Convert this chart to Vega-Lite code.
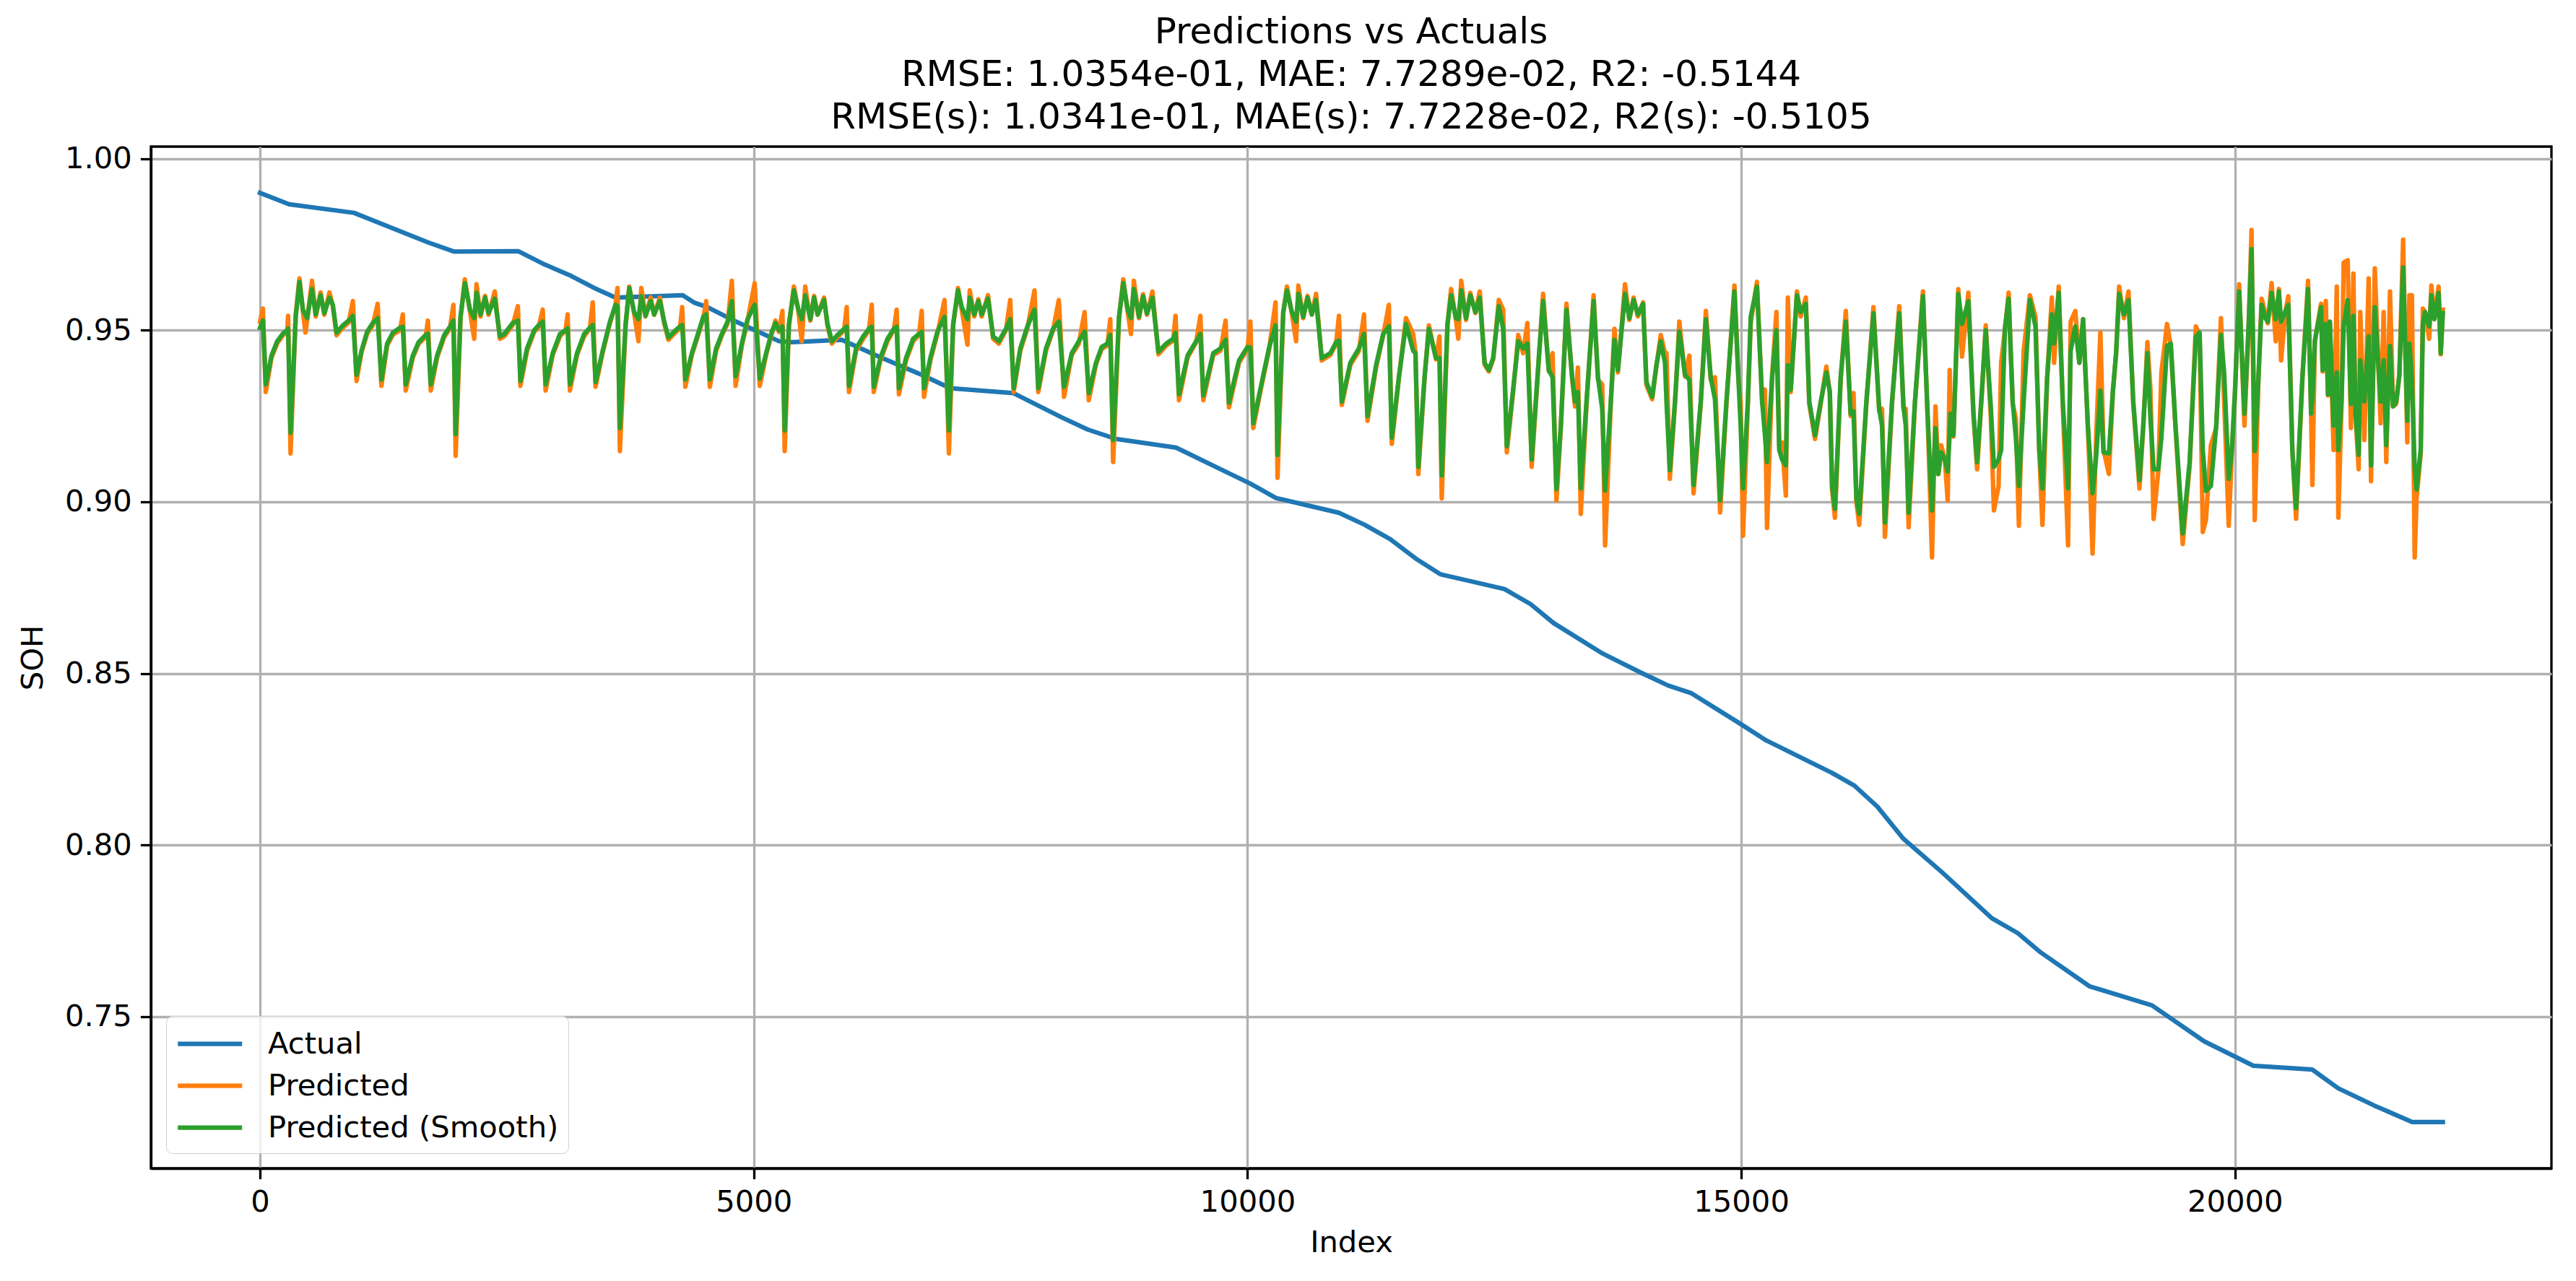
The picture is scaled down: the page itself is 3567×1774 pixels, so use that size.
{
  "$schema": "https://vega.github.io/schema/vega-lite/v6.json",
  "description": "Predictions vs Actuals, SOH over index",
  "width": 3324,
  "height": 1415,
  "autosize": {"type": "none"},
  "padding": {"left": 209, "top": 203, "right": 34, "bottom": 156},
  "background": "white",
  "title": {
    "text": [
      "Predictions vs Actuals",
      "RMSE: 1.0354e-01, MAE: 7.7289e-02, R2: -0.5144",
      "RMSE(s): 1.0341e-01, MAE(s): 7.7228e-02, R2(s): -0.5105"
    ],
    "font": "DejaVu Sans",
    "fontSize": 50,
    "fontWeight": "normal",
    "color": "black",
    "lineHeight": 59,
    "anchor": "middle",
    "frame": "group",
    "offset": 12
  },
  "datasets": {
    "actual": [
      {"i": 0, "v": 0.990}, {"i": 294, "v": 0.9867}, {"i": 951, "v": 0.9842}, {"i": 1700, "v": 0.9756},
      {"i": 1967, "v": 0.9729}, {"i": 2617, "v": 0.9730}, {"i": 2863, "v": 0.9694}, {"i": 3152, "v": 0.9658},
      {"i": 3384, "v": 0.9623}, {"i": 3600, "v": 0.9595}, {"i": 4280, "v": 0.9602}, {"i": 4400, "v": 0.9580},
      {"i": 4532, "v": 0.9567}, {"i": 4821, "v": 0.9525}, {"i": 5255, "v": 0.9468}, {"i": 5385, "v": 0.9465},
      {"i": 5891, "v": 0.9472}, {"i": 6267, "v": 0.9423}, {"i": 6701, "v": 0.9370}, {"i": 6990, "v": 0.9331},
      {"i": 7627, "v": 0.9317}, {"i": 8118, "v": 0.9246}, {"i": 8378, "v": 0.9211}, {"i": 8670, "v": 0.9183},
      {"i": 9277, "v": 0.9158}, {"i": 9798, "v": 0.9085}, {"i": 10029, "v": 0.9053}, {"i": 10289, "v": 0.9011},
      {"i": 10926, "v": 0.8968}, {"i": 11186, "v": 0.8933}, {"i": 11446, "v": 0.8891}, {"i": 11707, "v": 0.8834},
      {"i": 11952, "v": 0.8789}, {"i": 12602, "v": 0.8746}, {"i": 12867, "v": 0.8702}, {"i": 13099, "v": 0.8647},
      {"i": 13596, "v": 0.8558}, {"i": 13993, "v": 0.8501}, {"i": 14258, "v": 0.8465}, {"i": 14490, "v": 0.8443},
      {"i": 14987, "v": 0.8354}, {"i": 15252, "v": 0.8305}, {"i": 15914, "v": 0.8211}, {"i": 16146, "v": 0.8173},
      {"i": 16378, "v": 0.8112}, {"i": 16643, "v": 0.8018}, {"i": 17040, "v": 0.7919}, {"i": 17537, "v": 0.7787},
      {"i": 17802, "v": 0.7743}, {"i": 18033, "v": 0.7687}, {"i": 18530, "v": 0.7588}, {"i": 19159, "v": 0.7533},
      {"i": 19689, "v": 0.7428}, {"i": 20186, "v": 0.7357}, {"i": 20782, "v": 0.7346}, {"i": 21047, "v": 0.7291},
      {"i": 21411, "v": 0.7241}, {"i": 21795, "v": 0.7193}, {"i": 22105, "v": 0.7193}
    ],
    "pred": [
      {"i": 0, "p": 0.9525, "s": 0.9507}, {"i": 29, "p": 0.9563, "s": 0.9528}, {"i": 58, "p": 0.9320, "s": 0.9342},
      {"i": 116, "p": 0.9420, "s": 0.9426}, {"i": 174, "p": 0.9462, "s": 0.9468}, {"i": 231, "p": 0.9485, "s": 0.9490},
      {"i": 275, "p": 0.9495, "s": 0.9500}, {"i": 284, "p": 0.9542, "s": 0.9505}, {"i": 309, "p": 0.9141, "s": 0.9201},
      {"i": 361, "p": 0.9545, "s": 0.9539}, {"i": 399, "p": 0.9651, "s": 0.9641}, {"i": 434, "p": 0.9555, "s": 0.9560},
      {"i": 460, "p": 0.9493, "s": 0.9545}, {"i": 477, "p": 0.9530, "s": 0.9535}, {"i": 526, "p": 0.9644, "s": 0.9620},
      {"i": 564, "p": 0.9540, "s": 0.9546}, {"i": 613, "p": 0.9610, "s": 0.9602}, {"i": 651, "p": 0.9545, "s": 0.9550},
      {"i": 703, "p": 0.9610, "s": 0.9595}, {"i": 737, "p": 0.9570, "s": 0.9574}, {"i": 775, "p": 0.9485, "s": 0.9493},
      {"i": 839, "p": 0.9508, "s": 0.9514}, {"i": 897, "p": 0.9522, "s": 0.9528}, {"i": 940, "p": 0.9585, "s": 0.9542},
      {"i": 977, "p": 0.9352, "s": 0.9370}, {"i": 1027, "p": 0.9435, "s": 0.9440}, {"i": 1085, "p": 0.9490, "s": 0.9496},
      {"i": 1142, "p": 0.9515, "s": 0.9521}, {"i": 1191, "p": 0.9577, "s": 0.9535}, {"i": 1229, "p": 0.9338, "s": 0.9356},
      {"i": 1287, "p": 0.9455, "s": 0.9461}, {"i": 1345, "p": 0.9487, "s": 0.9493}, {"i": 1417, "p": 0.9500, "s": 0.9507},
      {"i": 1446, "p": 0.9546, "s": 0.9510}, {"i": 1475, "p": 0.9324, "s": 0.9342}, {"i": 1547, "p": 0.9420, "s": 0.9426},
      {"i": 1605, "p": 0.9460, "s": 0.9465}, {"i": 1677, "p": 0.9480, "s": 0.9486}, {"i": 1700, "p": 0.9528, "s": 0.9490},
      {"i": 1729, "p": 0.9324, "s": 0.9342}, {"i": 1793, "p": 0.9420, "s": 0.9426}, {"i": 1865, "p": 0.9480, "s": 0.9486},
      {"i": 1923, "p": 0.9505, "s": 0.9510}, {"i": 1958, "p": 0.9574, "s": 0.9528}, {"i": 1981, "p": 0.9134, "s": 0.9197},
      {"i": 2030, "p": 0.9535, "s": 0.9539}, {"i": 2074, "p": 0.9648, "s": 0.9637}, {"i": 2126, "p": 0.9555, "s": 0.9560},
      {"i": 2169, "p": 0.9475, "s": 0.9535}, {"i": 2192, "p": 0.9634, "s": 0.9609}, {"i": 2233, "p": 0.9540, "s": 0.9546},
      {"i": 2279, "p": 0.9600, "s": 0.9595}, {"i": 2314, "p": 0.9545, "s": 0.9550}, {"i": 2377, "p": 0.9613, "s": 0.9592},
      {"i": 2429, "p": 0.9475, "s": 0.9482}, {"i": 2473, "p": 0.9482, "s": 0.9489}, {"i": 2559, "p": 0.9515, "s": 0.9521},
      {"i": 2611, "p": 0.9570, "s": 0.9528}, {"i": 2637, "p": 0.9338, "s": 0.9352}, {"i": 2704, "p": 0.9440, "s": 0.9447},
      {"i": 2776, "p": 0.9495, "s": 0.9500}, {"i": 2820, "p": 0.9508, "s": 0.9514}, {"i": 2863, "p": 0.9560, "s": 0.9525},
      {"i": 2892, "p": 0.9324, "s": 0.9342}, {"i": 2964, "p": 0.9428, "s": 0.9433}, {"i": 3037, "p": 0.9482, "s": 0.9489},
      {"i": 3094, "p": 0.9500, "s": 0.9500}, {"i": 3115, "p": 0.9546, "s": 0.9505}, {"i": 3138, "p": 0.9324, "s": 0.9342},
      {"i": 3210, "p": 0.9428, "s": 0.9433}, {"i": 3282, "p": 0.9482, "s": 0.9489}, {"i": 3340, "p": 0.9505, "s": 0.9507},
      {"i": 3369, "p": 0.9581, "s": 0.9515}, {"i": 3398, "p": 0.9335, "s": 0.9349}, {"i": 3470, "p": 0.9435, "s": 0.9440},
      {"i": 3543, "p": 0.9520, "s": 0.9525}, {"i": 3600, "p": 0.9574, "s": 0.9574}, {"i": 3620, "p": 0.9623, "s": 0.9570},
      {"i": 3644, "p": 0.9148, "s": 0.9215}, {"i": 3702, "p": 0.9512, "s": 0.9518}, {"i": 3739, "p": 0.9627, "s": 0.9623},
      {"i": 3788, "p": 0.9550, "s": 0.9553}, {"i": 3832, "p": 0.9468, "s": 0.9532}, {"i": 3861, "p": 0.9623, "s": 0.9599},
      {"i": 3904, "p": 0.9540, "s": 0.9542}, {"i": 3956, "p": 0.9595, "s": 0.9585}, {"i": 3991, "p": 0.9545, "s": 0.9546},
      {"i": 4049, "p": 0.9595, "s": 0.9585}, {"i": 4093, "p": 0.9520, "s": 0.9525}, {"i": 4136, "p": 0.9472, "s": 0.9479},
      {"i": 4194, "p": 0.9490, "s": 0.9496}, {"i": 4252, "p": 0.9505, "s": 0.9511}, {"i": 4275, "p": 0.9567, "s": 0.9515},
      {"i": 4307, "p": 0.9335, "s": 0.9356}, {"i": 4373, "p": 0.9428, "s": 0.9433}, {"i": 4431, "p": 0.9480, "s": 0.9486},
      {"i": 4489, "p": 0.9535, "s": 0.9539}, {"i": 4518, "p": 0.9585, "s": 0.9546}, {"i": 4555, "p": 0.9335, "s": 0.9356},
      {"i": 4619, "p": 0.9440, "s": 0.9447}, {"i": 4677, "p": 0.9485, "s": 0.9489}, {"i": 4735, "p": 0.9520, "s": 0.9525},
      {"i": 4778, "p": 0.9644, "s": 0.9585}, {"i": 4816, "p": 0.9338, "s": 0.9366}, {"i": 4879, "p": 0.9455, "s": 0.9461},
      {"i": 4937, "p": 0.9528, "s": 0.9532}, {"i": 5009, "p": 0.9637, "s": 0.9574}, {"i": 5061, "p": 0.9338, "s": 0.9359},
      {"i": 5125, "p": 0.9428, "s": 0.9433}, {"i": 5183, "p": 0.9490, "s": 0.9496}, {"i": 5220, "p": 0.9528, "s": 0.9521},
      {"i": 5255, "p": 0.9495, "s": 0.9500}, {"i": 5290, "p": 0.9556, "s": 0.9511}, {"i": 5313, "p": 0.9148, "s": 0.9208},
      {"i": 5356, "p": 0.9512, "s": 0.9518}, {"i": 5406, "p": 0.9627, "s": 0.9616}, {"i": 5452, "p": 0.9555, "s": 0.9560},
      {"i": 5486, "p": 0.9468, "s": 0.9532}, {"i": 5521, "p": 0.9627, "s": 0.9602}, {"i": 5573, "p": 0.9528, "s": 0.9532},
      {"i": 5611, "p": 0.9600, "s": 0.9595}, {"i": 5646, "p": 0.9545, "s": 0.9546}, {"i": 5712, "p": 0.9595, "s": 0.9588},
      {"i": 5747, "p": 0.9512, "s": 0.9518}, {"i": 5790, "p": 0.9461, "s": 0.9468}, {"i": 5848, "p": 0.9480, "s": 0.9486},
      {"i": 5915, "p": 0.9500, "s": 0.9504}, {"i": 5941, "p": 0.9567, "s": 0.9510}, {"i": 5964, "p": 0.9320, "s": 0.9338},
      {"i": 6036, "p": 0.9440, "s": 0.9447}, {"i": 6108, "p": 0.9475, "s": 0.9482}, {"i": 6166, "p": 0.9500, "s": 0.9504},
      {"i": 6195, "p": 0.9574, "s": 0.9510}, {"i": 6215, "p": 0.9320, "s": 0.9335}, {"i": 6282, "p": 0.9412, "s": 0.9419},
      {"i": 6354, "p": 0.9468, "s": 0.9475}, {"i": 6418, "p": 0.9500, "s": 0.9504}, {"i": 6447, "p": 0.9560, "s": 0.9510},
      {"i": 6470, "p": 0.9313, "s": 0.9331}, {"i": 6542, "p": 0.9412, "s": 0.9419}, {"i": 6614, "p": 0.9468, "s": 0.9475},
      {"i": 6672, "p": 0.9485, "s": 0.9489}, {"i": 6701, "p": 0.9556, "s": 0.9495}, {"i": 6724, "p": 0.9306, "s": 0.9331},
      {"i": 6788, "p": 0.9412, "s": 0.9419}, {"i": 6860, "p": 0.9490, "s": 0.9496}, {"i": 6932, "p": 0.9588, "s": 0.9539},
      {"i": 6976, "p": 0.9141, "s": 0.9208}, {"i": 7019, "p": 0.9512, "s": 0.9518}, {"i": 7068, "p": 0.9623, "s": 0.9616},
      {"i": 7106, "p": 0.9560, "s": 0.9567}, {"i": 7164, "p": 0.9458, "s": 0.9532}, {"i": 7187, "p": 0.9616, "s": 0.9595},
      {"i": 7233, "p": 0.9540, "s": 0.9546}, {"i": 7274, "p": 0.9590, "s": 0.9585}, {"i": 7308, "p": 0.9540, "s": 0.9546},
      {"i": 7372, "p": 0.9602, "s": 0.9592}, {"i": 7424, "p": 0.9475, "s": 0.9482}, {"i": 7482, "p": 0.9461, "s": 0.9468},
      {"i": 7554, "p": 0.9500, "s": 0.9504}, {"i": 7597, "p": 0.9588, "s": 0.9532}, {"i": 7632, "p": 0.9320, "s": 0.9331},
      {"i": 7699, "p": 0.9440, "s": 0.9447}, {"i": 7771, "p": 0.9505, "s": 0.9511}, {"i": 7843, "p": 0.9616, "s": 0.9560},
      {"i": 7881, "p": 0.9320, "s": 0.9331}, {"i": 7959, "p": 0.9440, "s": 0.9447}, {"i": 8031, "p": 0.9500, "s": 0.9504},
      {"i": 8089, "p": 0.9588, "s": 0.9525}, {"i": 8142, "p": 0.9306, "s": 0.9335}, {"i": 8220, "p": 0.9428, "s": 0.9433},
      {"i": 8292, "p": 0.9461, "s": 0.9468}, {"i": 8350, "p": 0.9553, "s": 0.9496}, {"i": 8393, "p": 0.9296, "s": 0.9317},
      {"i": 8465, "p": 0.9400, "s": 0.9405}, {"i": 8523, "p": 0.9445, "s": 0.9451}, {"i": 8581, "p": 0.9455, "s": 0.9461},
      {"i": 8610, "p": 0.9532, "s": 0.9486}, {"i": 8639, "p": 0.9116, "s": 0.9180}, {"i": 8699, "p": 0.9535, "s": 0.9539},
      {"i": 8742, "p": 0.9648, "s": 0.9637}, {"i": 8786, "p": 0.9555, "s": 0.9560}, {"i": 8820, "p": 0.9489, "s": 0.9535},
      {"i": 8849, "p": 0.9644, "s": 0.9620}, {"i": 8901, "p": 0.9535, "s": 0.9539}, {"i": 8942, "p": 0.9605, "s": 0.9599},
      {"i": 8982, "p": 0.9545, "s": 0.9549}, {"i": 9037, "p": 0.9613, "s": 0.9595}, {"i": 9098, "p": 0.9430, "s": 0.9437},
      {"i": 9176, "p": 0.9455, "s": 0.9461}, {"i": 9248, "p": 0.9470, "s": 0.9475}, {"i": 9271, "p": 0.9542, "s": 0.9493},
      {"i": 9306, "p": 0.9296, "s": 0.9313}, {"i": 9393, "p": 0.9420, "s": 0.9426}, {"i": 9480, "p": 0.9465, "s": 0.9468},
      {"i": 9523, "p": 0.9542, "s": 0.9489}, {"i": 9552, "p": 0.9296, "s": 0.9310}, {"i": 9653, "p": 0.9428, "s": 0.9433},
      {"i": 9726, "p": 0.9440, "s": 0.9447}, {"i": 9778, "p": 0.9528, "s": 0.9472}, {"i": 9812, "p": 0.9275, "s": 0.9289},
      {"i": 9914, "p": 0.9405, "s": 0.9412}, {"i": 10000, "p": 0.9445, "s": 0.9451}, {"i": 10029, "p": 0.9525, "s": 0.9450},
      {"i": 10058, "p": 0.9215, "s": 0.9229}, {"i": 10145, "p": 0.9342, "s": 0.9349}, {"i": 10217, "p": 0.9440, "s": 0.9447},
      {"i": 10284, "p": 0.9581, "s": 0.9514}, {"i": 10304, "p": 0.9070, "s": 0.9137}, {"i": 10362, "p": 0.9550, "s": 0.9553},
      {"i": 10399, "p": 0.9627, "s": 0.9616}, {"i": 10449, "p": 0.9550, "s": 0.9553}, {"i": 10492, "p": 0.9468, "s": 0.9525},
      {"i": 10515, "p": 0.9630, "s": 0.9606}, {"i": 10564, "p": 0.9535, "s": 0.9539}, {"i": 10608, "p": 0.9600, "s": 0.9595},
      {"i": 10651, "p": 0.9545, "s": 0.9546}, {"i": 10694, "p": 0.9606, "s": 0.9588}, {"i": 10752, "p": 0.9412, "s": 0.9419},
      {"i": 10839, "p": 0.9428, "s": 0.9433}, {"i": 10897, "p": 0.9460, "s": 0.9465}, {"i": 10926, "p": 0.9542, "s": 0.9470},
      {"i": 10955, "p": 0.9282, "s": 0.9292}, {"i": 11041, "p": 0.9398, "s": 0.9405}, {"i": 11128, "p": 0.9440, "s": 0.9447},
      {"i": 11180, "p": 0.9546, "s": 0.9489}, {"i": 11215, "p": 0.9236, "s": 0.9250}, {"i": 11302, "p": 0.9391, "s": 0.9398},
      {"i": 11374, "p": 0.9485, "s": 0.9489}, {"i": 11432, "p": 0.9574, "s": 0.9511}, {"i": 11461, "p": 0.9169, "s": 0.9187},
      {"i": 11533, "p": 0.9360, "s": 0.9363}, {"i": 11605, "p": 0.9535, "s": 0.9518}, {"i": 11678, "p": 0.9489, "s": 0.9440},
      {"i": 11701, "p": 0.9435, "s": 0.9433}, {"i": 11730, "p": 0.9081, "s": 0.9102}, {"i": 11793, "p": 0.9360, "s": 0.9363},
      {"i": 11837, "p": 0.9514, "s": 0.9504}, {"i": 11909, "p": 0.9415, "s": 0.9419}, {"i": 11944, "p": 0.9482, "s": 0.9419},
      {"i": 11967, "p": 0.9010, "s": 0.9077}, {"i": 12025, "p": 0.9515, "s": 0.9518}, {"i": 12062, "p": 0.9620, "s": 0.9602},
      {"i": 12111, "p": 0.9530, "s": 0.9535}, {"i": 12135, "p": 0.9475, "s": 0.9532}, {"i": 12164, "p": 0.9644, "s": 0.9616},
      {"i": 12213, "p": 0.9530, "s": 0.9535}, {"i": 12256, "p": 0.9609, "s": 0.9602}, {"i": 12308, "p": 0.9550, "s": 0.9553},
      {"i": 12352, "p": 0.9613, "s": 0.9595}, {"i": 12401, "p": 0.9400, "s": 0.9405}, {"i": 12444, "p": 0.9380, "s": 0.9384},
      {"i": 12488, "p": 0.9415, "s": 0.9419}, {"i": 12545, "p": 0.9588, "s": 0.9570}, {"i": 12589, "p": 0.9560, "s": 0.9504},
      {"i": 12626, "p": 0.9144, "s": 0.9162}, {"i": 12690, "p": 0.9320, "s": 0.9327}, {"i": 12742, "p": 0.9486, "s": 0.9468},
      {"i": 12791, "p": 0.9433, "s": 0.9447}, {"i": 12834, "p": 0.9521, "s": 0.9461}, {"i": 12878, "p": 0.9102, "s": 0.9123},
      {"i": 12950, "p": 0.9415, "s": 0.9419}, {"i": 12993, "p": 0.9606, "s": 0.9585}, {"i": 13051, "p": 0.9380, "s": 0.9384},
      {"i": 13089, "p": 0.9433, "s": 0.9363}, {"i": 13129, "p": 0.9004, "s": 0.9037}, {"i": 13173, "p": 0.9215, "s": 0.9222},
      {"i": 13230, "p": 0.9577, "s": 0.9560}, {"i": 13288, "p": 0.9356, "s": 0.9363}, {"i": 13317, "p": 0.9278, "s": 0.9292},
      {"i": 13346, "p": 0.9391, "s": 0.9320}, {"i": 13375, "p": 0.8965, "s": 0.9039}, {"i": 13433, "p": 0.9285, "s": 0.9292},
      {"i": 13505, "p": 0.9602, "s": 0.9585}, {"i": 13549, "p": 0.9356, "s": 0.9363}, {"i": 13592, "p": 0.9342, "s": 0.9271},
      {"i": 13621, "p": 0.8873, "s": 0.9033}, {"i": 13679, "p": 0.9285, "s": 0.9292}, {"i": 13716, "p": 0.9504, "s": 0.9472},
      {"i": 13751, "p": 0.9377, "s": 0.9384}, {"i": 13823, "p": 0.9634, "s": 0.9606}, {"i": 13867, "p": 0.9530, "s": 0.9535},
      {"i": 13910, "p": 0.9595, "s": 0.9588}, {"i": 13953, "p": 0.9540, "s": 0.9546}, {"i": 14006, "p": 0.9581, "s": 0.9577},
      {"i": 14040, "p": 0.9340, "s": 0.9349}, {"i": 14098, "p": 0.9299, "s": 0.9306}, {"i": 14141, "p": 0.9395, "s": 0.9398},
      {"i": 14185, "p": 0.9486, "s": 0.9468}, {"i": 14228, "p": 0.9433, "s": 0.9405}, {"i": 14243, "p": 0.9433, "s": 0.9292},
      {"i": 14277, "p": 0.9067, "s": 0.9092}, {"i": 14329, "p": 0.9285, "s": 0.9292}, {"i": 14373, "p": 0.9525, "s": 0.9496},
      {"i": 14431, "p": 0.9365, "s": 0.9370}, {"i": 14474, "p": 0.9426, "s": 0.9356}, {"i": 14517, "p": 0.9025, "s": 0.9049},
      {"i": 14590, "p": 0.9285, "s": 0.9292}, {"i": 14642, "p": 0.9556, "s": 0.9532}, {"i": 14691, "p": 0.9356, "s": 0.9363},
      {"i": 14734, "p": 0.9363, "s": 0.9299}, {"i": 14786, "p": 0.8969, "s": 0.9004}, {"i": 14850, "p": 0.9285, "s": 0.9292},
      {"i": 14931, "p": 0.9630, "s": 0.9613}, {"i": 14971, "p": 0.9360, "s": 0.9363}, {"i": 14994, "p": 0.9292, "s": 0.9222},
      {"i": 15018, "p": 0.8901, "s": 0.9039}, {"i": 15067, "p": 0.9285, "s": 0.9292}, {"i": 15096, "p": 0.9520, "s": 0.9539},
      {"i": 15159, "p": 0.9641, "s": 0.9627}, {"i": 15212, "p": 0.9285, "s": 0.9292}, {"i": 15240, "p": 0.9327, "s": 0.9194},
      {"i": 15261, "p": 0.8924, "s": 0.9116}, {"i": 15313, "p": 0.9370, "s": 0.9363}, {"i": 15356, "p": 0.9553, "s": 0.9500},
      {"i": 15385, "p": 0.9165, "s": 0.9151}, {"i": 15414, "p": 0.9173, "s": 0.9123}, {"i": 15452, "p": 0.9018, "s": 0.9106},
      {"i": 15472, "p": 0.9595, "s": 0.9398}, {"i": 15501, "p": 0.9320, "s": 0.9327}, {"i": 15564, "p": 0.9613, "s": 0.9602},
      {"i": 15602, "p": 0.9540, "s": 0.9553}, {"i": 15654, "p": 0.9595, "s": 0.9577}, {"i": 15689, "p": 0.9285, "s": 0.9292},
      {"i": 15747, "p": 0.9183, "s": 0.9194}, {"i": 15805, "p": 0.9285, "s": 0.9292}, {"i": 15862, "p": 0.9394, "s": 0.9377},
      {"i": 15897, "p": 0.9320, "s": 0.9320}, {"i": 15920, "p": 0.9035, "s": 0.9046}, {"i": 15949, "p": 0.8954, "s": 0.8979},
      {"i": 16007, "p": 0.9356, "s": 0.9363}, {"i": 16059, "p": 0.9556, "s": 0.9525}, {"i": 16108, "p": 0.9250, "s": 0.9257},
      {"i": 16137, "p": 0.9317, "s": 0.9264}, {"i": 16166, "p": 0.9000, "s": 0.9011}, {"i": 16195, "p": 0.8933, "s": 0.8965},
      {"i": 16267, "p": 0.9285, "s": 0.9292}, {"i": 16339, "p": 0.9567, "s": 0.9549}, {"i": 16397, "p": 0.9264, "s": 0.9271},
      {"i": 16426, "p": 0.9271, "s": 0.9222}, {"i": 16455, "p": 0.8898, "s": 0.8940}, {"i": 16527, "p": 0.9285, "s": 0.9292},
      {"i": 16600, "p": 0.9570, "s": 0.9549}, {"i": 16643, "p": 0.9271, "s": 0.9278}, {"i": 16666, "p": 0.9271, "s": 0.9222},
      {"i": 16695, "p": 0.8926, "s": 0.8968}, {"i": 16759, "p": 0.9285, "s": 0.9292}, {"i": 16840, "p": 0.9613, "s": 0.9599},
      {"i": 16889, "p": 0.9236, "s": 0.9243}, {"i": 16932, "p": 0.8838, "s": 0.8975}, {"i": 16967, "p": 0.9278, "s": 0.9215},
      {"i": 16996, "p": 0.9081, "s": 0.9081}, {"i": 17025, "p": 0.9165, "s": 0.9144}, {"i": 17062, "p": 0.9123, "s": 0.9123},
      {"i": 17091, "p": 0.9004, "s": 0.9088}, {"i": 17111, "p": 0.9384, "s": 0.9200}, {"i": 17120, "p": 0.9250, "s": 0.9257},
      {"i": 17149, "p": 0.9190, "s": 0.9194}, {"i": 17198, "p": 0.9620, "s": 0.9606}, {"i": 17236, "p": 0.9423, "s": 0.9518},
      {"i": 17300, "p": 0.9609, "s": 0.9585}, {"i": 17352, "p": 0.9250, "s": 0.9257}, {"i": 17389, "p": 0.9095, "s": 0.9116},
      {"i": 17438, "p": 0.9320, "s": 0.9327}, {"i": 17476, "p": 0.9514, "s": 0.9500}, {"i": 17527, "p": 0.9250, "s": 0.9278},
      {"i": 17559, "p": 0.8975, "s": 0.9102}, {"i": 17606, "p": 0.9046, "s": 0.9123}, {"i": 17632, "p": 0.9405, "s": 0.9151},
      {"i": 17670, "p": 0.9500, "s": 0.9504}, {"i": 17708, "p": 0.9609, "s": 0.9592}, {"i": 17749, "p": 0.9285, "s": 0.9292},
      {"i": 17781, "p": 0.9243, "s": 0.9187}, {"i": 17812, "p": 0.8930, "s": 0.9046}, {"i": 17860, "p": 0.9440, "s": 0.9292},
      {"i": 17923, "p": 0.9602, "s": 0.9588}, {"i": 17980, "p": 0.9539, "s": 0.9511}, {"i": 18018, "p": 0.9151, "s": 0.9151},
      {"i": 18050, "p": 0.8933, "s": 0.9039}, {"i": 18098, "p": 0.9360, "s": 0.9363}, {"i": 18145, "p": 0.9595, "s": 0.9546},
      {"i": 18168, "p": 0.9405, "s": 0.9461}, {"i": 18215, "p": 0.9627, "s": 0.9609}, {"i": 18256, "p": 0.9285, "s": 0.9292},
      {"i": 18310, "p": 0.8873, "s": 0.9039}, {"i": 18336, "p": 0.9525, "s": 0.9440}, {"i": 18383, "p": 0.9556, "s": 0.9511},
      {"i": 18424, "p": 0.9405, "s": 0.9405}, {"i": 18462, "p": 0.9532, "s": 0.9532}, {"i": 18510, "p": 0.9222, "s": 0.9222},
      {"i": 18558, "p": 0.8849, "s": 0.9025}, {"i": 18596, "p": 0.9201, "s": 0.9137}, {"i": 18637, "p": 0.9493, "s": 0.9324},
      {"i": 18669, "p": 0.9151, "s": 0.9144}, {"i": 18723, "p": 0.9081, "s": 0.9141}, {"i": 18764, "p": 0.9320, "s": 0.9324},
      {"i": 18796, "p": 0.9430, "s": 0.9433}, {"i": 18827, "p": 0.9627, "s": 0.9606}, {"i": 18875, "p": 0.9535, "s": 0.9546},
      {"i": 18922, "p": 0.9613, "s": 0.9588}, {"i": 18970, "p": 0.9285, "s": 0.9292}, {"i": 19033, "p": 0.9039, "s": 0.9063},
      {"i": 19071, "p": 0.9215, "s": 0.9222}, {"i": 19113, "p": 0.9465, "s": 0.9433}, {"i": 19144, "p": 0.9327, "s": 0.9243},
      {"i": 19176, "p": 0.8950, "s": 0.9095}, {"i": 19224, "p": 0.9090, "s": 0.9095}, {"i": 19255, "p": 0.9377, "s": 0.9187},
      {"i": 19312, "p": 0.9518, "s": 0.9454}, {"i": 19350, "p": 0.9455, "s": 0.9461}, {"i": 19398, "p": 0.9215, "s": 0.9222},
      {"i": 19471, "p": 0.8877, "s": 0.8908}, {"i": 19541, "p": 0.9105, "s": 0.9116}, {"i": 19604, "p": 0.9511, "s": 0.9482},
      {"i": 19642, "p": 0.9486, "s": 0.9493}, {"i": 19674, "p": 0.8912, "s": 0.9151}, {"i": 19706, "p": 0.8947, "s": 0.9032},
      {"i": 19756, "p": 0.9165, "s": 0.9046}, {"i": 19810, "p": 0.9215, "s": 0.9222}, {"i": 19858, "p": 0.9535, "s": 0.9486},
      {"i": 19890, "p": 0.9299, "s": 0.9377}, {"i": 19937, "p": 0.8930, "s": 0.9067}, {"i": 19969, "p": 0.9144, "s": 0.9151},
      {"i": 20000, "p": 0.9315, "s": 0.9320}, {"i": 20042, "p": 0.9634, "s": 0.9613}, {"i": 20096, "p": 0.9222, "s": 0.9257},
      {"i": 20137, "p": 0.9500, "s": 0.9504}, {"i": 20168, "p": 0.9792, "s": 0.9736}, {"i": 20200, "p": 0.8947, "s": 0.9148},
      {"i": 20238, "p": 0.9360, "s": 0.9363}, {"i": 20270, "p": 0.9592, "s": 0.9574}, {"i": 20308, "p": 0.9549, "s": 0.9535},
      {"i": 20333, "p": 0.9520, "s": 0.9525}, {"i": 20371, "p": 0.9637, "s": 0.9609}, {"i": 20413, "p": 0.9468, "s": 0.9532},
      {"i": 20445, "p": 0.9620, "s": 0.9613}, {"i": 20467, "p": 0.9412, "s": 0.9525}, {"i": 20508, "p": 0.9550, "s": 0.9553},
      {"i": 20540, "p": 0.9599, "s": 0.9574}, {"i": 20581, "p": 0.9150, "s": 0.9151}, {"i": 20619, "p": 0.8951, "s": 0.8982},
      {"i": 20683, "p": 0.9360, "s": 0.9363}, {"i": 20740, "p": 0.9644, "s": 0.9620}, {"i": 20771, "p": 0.9257, "s": 0.9257},
      {"i": 20784, "p": 0.9049, "s": 0.9300}, {"i": 20809, "p": 0.9470, "s": 0.9468}, {"i": 20872, "p": 0.9577, "s": 0.9567},
      {"i": 20888, "p": 0.9380, "s": 0.9384}, {"i": 20920, "p": 0.9585, "s": 0.9518}, {"i": 20942, "p": 0.9310, "s": 0.9313},
      {"i": 20961, "p": 0.9520, "s": 0.9525}, {"i": 20999, "p": 0.9151, "s": 0.9222}, {"i": 21031, "p": 0.9627, "s": 0.9377},
      {"i": 21047, "p": 0.8954, "s": 0.9151}, {"i": 21079, "p": 0.9285, "s": 0.9292}, {"i": 21101, "p": 0.9697, "s": 0.9511},
      {"i": 21142, "p": 0.9704, "s": 0.9588}, {"i": 21174, "p": 0.9215, "s": 0.9285}, {"i": 21199, "p": 0.9665, "s": 0.9542},
      {"i": 21221, "p": 0.9250, "s": 0.9257}, {"i": 21253, "p": 0.9095, "s": 0.9137}, {"i": 21269, "p": 0.9553, "s": 0.9412},
      {"i": 21310, "p": 0.9180, "s": 0.9292}, {"i": 21354, "p": 0.9651, "s": 0.9482}, {"i": 21378, "p": 0.9060, "s": 0.9106},
      {"i": 21416, "p": 0.9680, "s": 0.9567}, {"i": 21475, "p": 0.9229, "s": 0.9292}, {"i": 21506, "p": 0.9553, "s": 0.9412},
      {"i": 21532, "p": 0.9116, "s": 0.9165}, {"i": 21570, "p": 0.9613, "s": 0.9454}, {"i": 21601, "p": 0.9278, "s": 0.9278},
      {"i": 21633, "p": 0.9285, "s": 0.9292}, {"i": 21665, "p": 0.9370, "s": 0.9370}, {"i": 21703, "p": 0.9764, "s": 0.9683},
      {"i": 21745, "p": 0.9173, "s": 0.9236}, {"i": 21767, "p": 0.9602, "s": 0.9461}, {"i": 21792, "p": 0.9602, "s": 0.9356},
      {"i": 21820, "p": 0.8838, "s": 0.9100}, {"i": 21839, "p": 0.9010, "s": 0.9036}, {"i": 21881, "p": 0.9140, "s": 0.9151},
      {"i": 21903, "p": 0.9563, "s": 0.9518}, {"i": 21925, "p": 0.9553, "s": 0.9553}, {"i": 21967, "p": 0.9475, "s": 0.9511},
      {"i": 21989, "p": 0.9630, "s": 0.9602}, {"i": 22020, "p": 0.9535, "s": 0.9532}, {"i": 22062, "p": 0.9627, "s": 0.9609},
      {"i": 22084, "p": 0.9430, "s": 0.9433}, {"i": 22105, "p": 0.9560, "s": 0.9550}
    ]
  },
  "layer": [
    {
      "data": {"name": "actual"},
      "mark": {"type": "line", "strokeWidth": 6.25, "strokeJoin": "round", "strokeCap": "square"},
      "encoding": {
        "x": {
          "field": "i",
          "type": "quantitative",
          "title": "Index",
          "scale": {"domain": [-1105, 23205], "nice": false, "zero": false},
          "axis": {"values": [0, 5000, 10000, 15000, 20000], "format": "d", "labelFlush": false, "titlePadding": 14}
        },
        "y": {
          "field": "v",
          "type": "quantitative",
          "title": "SOH",
          "scale": {"domain": [0.7058, 1.0035], "nice": false, "zero": false},
          "axis": {"values": [0.75, 0.8, 0.85, 0.9, 0.95, 1.0], "format": ".2f", "titlePadding": 22}
        },
        "color": {
          "datum": "Actual",
          "scale": {
            "domain": ["Actual", "Predicted", "Predicted (Smooth)"],
            "range": ["#1f77b4", "#ff7f0e", "#2ca02c"]
          },
          "legend": {
            "title": null,
            "orient": "bottom-left",
            "offset": 21,
            "symbolType": "M-1,0H3",
            "symbolSize": 1980,
            "symbolStrokeWidth": 6.25,
            "labelFontSize": 41.7,
            "labelFont": "DejaVu Sans",
            "labelColor": "black",
            "labelLimit": 1200,
            "labelOffset": 77,
            "rowPadding": 10,
            "padding": 13,
            "fillColor": "rgba(255,255,255,0.8)",
            "strokeColor": "#d0d0d0",
            "cornerRadius": 9
          }
        }
      }
    },
    {
      "data": {"name": "pred"},
      "mark": {"type": "line", "strokeWidth": 6.25, "strokeJoin": "round", "strokeCap": "square"},
      "encoding": {
        "x": {"field": "i", "type": "quantitative"},
        "y": {"field": "p", "type": "quantitative"},
        "color": {"datum": "Predicted"}
      }
    },
    {
      "data": {"name": "pred"},
      "mark": {"type": "line", "strokeWidth": 6.25, "strokeJoin": "round", "strokeCap": "square"},
      "encoding": {
        "x": {"field": "i", "type": "quantitative"},
        "y": {"field": "s", "type": "quantitative"},
        "color": {"datum": "Predicted (Smooth)"}
      }
    }
  ],
  "config": {
    "font": "DejaVu Sans",
    "view": {"stroke": "black", "strokeWidth": 3.3},
    "axis": {
      "grid": true,
      "gridColor": "#b0b0b0",
      "gridWidth": 3.3,
      "domainColor": "black",
      "domainWidth": 3.3,
      "tickColor": "black",
      "tickWidth": 3.3,
      "tickSize": 14.6,
      "labelFont": "DejaVu Sans",
      "labelFontSize": 41.7,
      "labelColor": "black",
      "labelPadding": 12,
      "labelOverlap": false,
      "titleFont": "DejaVu Sans",
      "titleFontSize": 41.7,
      "titleFontWeight": "normal",
      "titleColor": "black"
    }
  }
}
